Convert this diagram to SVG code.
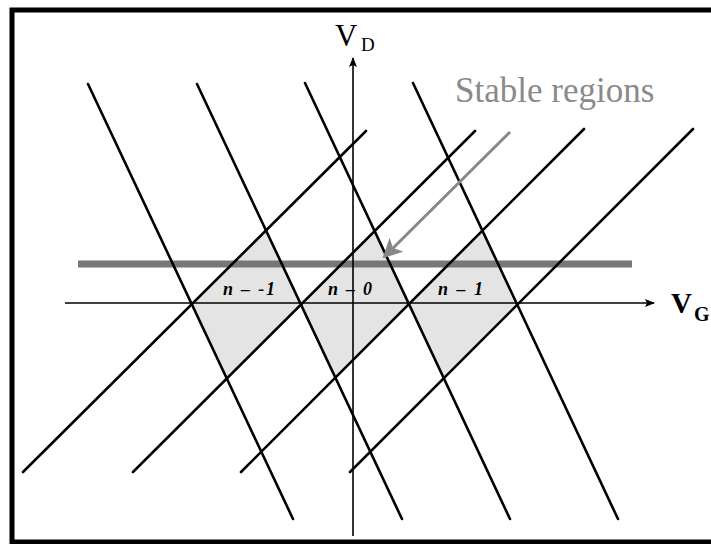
<svg xmlns="http://www.w3.org/2000/svg" width="711" height="544" viewBox="0 0 711 544">
  <style>
    .region { fill: #e4e4e4; stroke: none; }
    .line { stroke: #000; stroke-width: 2.6; stroke-linecap: round; fill: none; }
    .axis { stroke: #000; stroke-width: 1.6; fill: none; }
    .lbl { font-family: "Liberation Serif", serif; font-weight: bold; font-style: italic; font-size: 18px; fill: #000; }
    .ax { font-family: "Liberation Serif", serif; fill: #000; }
  </style>
  <defs>
    <marker id="ah" viewBox="0 0 10 10" refX="9" refY="5" markerWidth="10" markerHeight="10" markerUnits="userSpaceOnUse" orient="auto">
      <path d="M0,1 L10,5 L0,9 L2,5 Z" fill="#000"/>
    </marker>
    <marker id="gah" viewBox="0 0 10 10" refX="9" refY="5" markerWidth="6.5" markerHeight="6.5" orient="auto">
      <path d="M0,0 L10,5 L0,10 L2.5,5 Z" fill="#888"/>
    </marker>
  </defs>
  <rect x="0" y="0" width="711" height="544" fill="#fff"/>
  <rect x="12" y="10" width="712" height="532" fill="none" stroke="#000" stroke-width="5"/>

  <g id="region-n-minus1">
    <polygon class="region" points="192,304 266,230 302,305 227,379"/>
  </g>
  <g id="region-n0">
    <polygon class="region" points="302,305 375,231 409,304 336,378"/>
  </g>
  <g id="region-n1">
    <polygon class="region" points="409,304 483,231 517,305 444,378"/>
  </g>

  <rect id="gate-bar" x="78" y="260.5" width="554" height="7" fill="#777"/>

  <g id="connectors">
    <line class="line" x1="88" y1="84" x2="293" y2="519"/>
    <line class="line" x1="197" y1="84" x2="402" y2="519"/>
    <line class="line" x1="305" y1="83" x2="510" y2="519"/>
    <line class="line" x1="413" y1="83" x2="618" y2="519"/>
    <line class="line" x1="23" y1="472" x2="366" y2="131"/>
    <line class="line" x1="133" y1="472" x2="475" y2="131"/>
    <line class="line" x1="241" y1="472" x2="584" y2="129"/>
    <line class="line" x1="350" y1="472" x2="693" y2="129"/>
    <line x1="510" y1="132" x2="384" y2="257" stroke="#888" stroke-width="3" marker-end="url(#gah)"/>
  </g>

  <g id="labels">
    <text class="lbl" x="223" y="295" textLength="52" lengthAdjust="spacing">n – -1</text>
    <text class="lbl" x="328" y="295" textLength="44" lengthAdjust="spacing">n – 0</text>
    <text class="lbl" x="438" y="295" textLength="45" lengthAdjust="spacing">n – 1</text>
  </g>

  <g id="axes">
    <line class="axis" x1="65" y1="303" x2="654" y2="303" marker-end="url(#ah)"/>
    <line class="axis" x1="353" y1="536" x2="353" y2="58" marker-end="url(#ah)"/>
  </g>

  <g id="axis-labels">
    <text class="ax" x="335" y="46" font-size="31">V</text>
    <text class="ax" x="361" y="51" font-size="19">D</text>
    <text class="ax" x="671" y="313" font-size="29" font-weight="bold">V</text>
    <text class="ax" x="694" y="321" font-size="20" font-weight="bold">G</text>
  </g>

  <g id="stable-regions">
    <text x="455" y="102" font-family="Liberation Serif, serif" font-size="35" fill="#8a8a8a">Stable regions</text>
  </g>
</svg>
